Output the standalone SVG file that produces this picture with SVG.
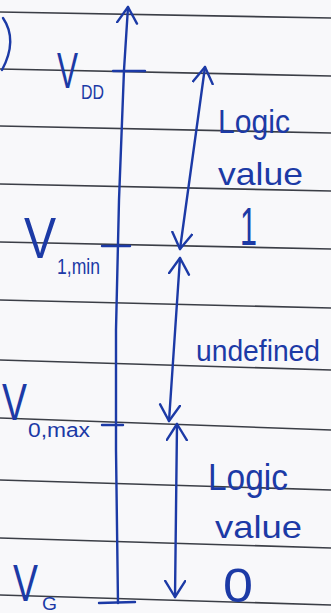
<svg xmlns="http://www.w3.org/2000/svg" width="331" height="613" viewBox="0 0 331 613">
<defs>
<style>
.rule{stroke:#3b3e46;stroke-width:1.6;fill:none}
.ink{stroke:#1c3aa6;stroke-width:2.4;fill:none;stroke-linecap:round;stroke-linejoin:round}
.t{font-family:"Liberation Sans","DejaVu Sans",sans-serif;fill:#1c3aa6}
</style>
<marker id="ah" markerUnits="userSpaceOnUse" markerWidth="24" markerHeight="24" refX="17" refY="11" orient="auto-start-reverse" viewBox="0 0 24 24">
<path d="M1,1 L17,11 L1,21" fill="none" stroke="#1c3aa6" stroke-width="2.4" stroke-linecap="round" stroke-linejoin="round"/>
</marker>
</defs>
<rect width="331" height="613" fill="#f8f8fa"/>
<g id="ruled-lines">
<line class="rule" x1="0" y1="12" x2="331" y2="18"/>
<line class="rule" x1="0" y1="69" x2="331" y2="76"/>
<line class="rule" x1="0" y1="126" x2="331" y2="133"/>
<line class="rule" x1="0" y1="184" x2="331" y2="191"/>
<line class="rule" x1="0" y1="242" x2="331" y2="249"/>
<line class="rule" x1="0" y1="300" x2="331" y2="308"/>
<line class="rule" x1="0" y1="360" x2="331" y2="370"/>
<line class="rule" x1="0" y1="418" x2="331" y2="430"/>
<line class="rule" x1="0" y1="480" x2="331" y2="490"/>
<line class="rule" x1="0" y1="538" x2="331" y2="548"/>
<line class="rule" x1="0" y1="595" x2="331" y2="605"/>
</g>
<path class="ink" d="M3,18 Q18,40 2,70"/>
<g id="connectors">
<path class="ink" d="M118,603 L116,450 L116,330 L119,200 L124,70 L128,7" marker-end="url(#ah)"/>
<path class="ink" d="M205,67 L180,249" marker-start="url(#ah)" marker-end="url(#ah)"/>
<path class="ink" d="M180,258 L169,421" marker-start="url(#ah)" marker-end="url(#ah)"/>
<path class="ink" d="M177,424 L175,597" marker-start="url(#ah)" marker-end="url(#ah)"/>
</g>
<g id="vdd">
<line class="ink" x1="113" y1="71" x2="145" y2="71"/>
<text class="t" transform="translate(57,88) scale(0.63,1)" font-size="50">V</text>
<text class="t" x="81" y="99" font-size="20" textLength="23" lengthAdjust="spacingAndGlyphs">DD</text>
</g>
<g id="v1min">
<line class="ink" x1="102" y1="246" x2="130" y2="246"/>
<text class="t" transform="translate(24,258) scale(0.83,1)" font-size="58">V</text>
<text class="t" x="57" y="274" font-size="22" textLength="43" lengthAdjust="spacingAndGlyphs">1,min</text>
</g>
<g id="v0max">
<line class="ink" x1="102" y1="425" x2="123" y2="425"/>
<text class="t" transform="translate(2,420) scale(0.72,1)" font-size="52">V</text>
<text class="t" x="28" y="437" font-size="20" textLength="62" lengthAdjust="spacingAndGlyphs">0,max</text>
</g>
<g id="vg">
<line class="ink" x1="99" y1="603" x2="135" y2="602"/>
<text class="t" transform="translate(13,601) scale(0.72,1)" font-size="52">V</text>
<text class="t" x="42" y="610" font-size="19" textLength="15" lengthAdjust="spacingAndGlyphs">G</text>
</g>
<g id="logic1">
<text class="t" x="218" y="133" font-size="34" textLength="72" lengthAdjust="spacingAndGlyphs">Logic</text>
<text class="t" x="218" y="185" font-size="32" textLength="85" lengthAdjust="spacingAndGlyphs">value</text>
<text class="t" x="240" y="245" font-size="54" textLength="17" lengthAdjust="spacingAndGlyphs">1</text>
</g>
<g id="undefined">
<text class="t" x="196" y="361" font-size="29" textLength="124" lengthAdjust="spacingAndGlyphs">undefined</text>
</g>
<g id="logic0">
<text class="t" x="208" y="490" font-size="36" textLength="80" lengthAdjust="spacingAndGlyphs">Logic</text>
<text class="t" x="215" y="538" font-size="32" textLength="87" lengthAdjust="spacingAndGlyphs">value</text>
<text class="t" x="223" y="602" font-size="48" textLength="30" lengthAdjust="spacingAndGlyphs">0</text>
</g>
</svg>
